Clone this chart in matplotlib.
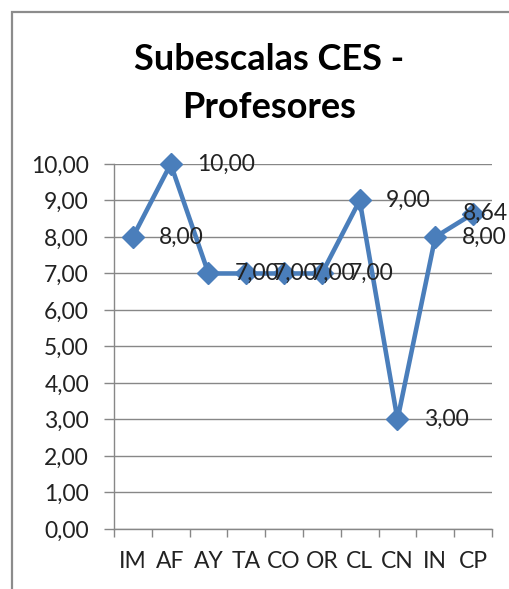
import numpy as np
import matplotlib
matplotlib.use("Agg")
from matplotlib import pyplot as plt
from matplotlib.patches import Rectangle

# data
categories = ["IM", "AF", "AY", "TA", "CO", "OR", "CL", "CN", "IN", "CP"]
values = [8.00, 10.00, 7.00, 7.00, 7.00, 7.00, 9.00, 3.00, 8.00, 8.64]
y_ticks = [0, 1, 2, 3, 4, 5, 6, 7, 8, 9, 10]

plt.rcParams['font.family'] = ['Lato', 'DejaVu Sans']

line_color = "#4A7EBB"
grid_color = "#878787"

fig = plt.figure(figsize=(5.10, 5.89), dpi=100)
ax = fig.add_axes([0.2235, 0.1019, 0.7412, 0.6197])

x = np.arange(len(categories))
ax.plot(x, values, color=line_color, linewidth=3.3, marker="D",
        markersize=11.5, markeredgecolor=line_color, zorder=3,
        clip_on=False)

# data labels to the right of each point (last one pushed left, like Excel does)
for i, (xi, v) in enumerate(zip(x, values)):
    dx, dy = (19, 0) if i < len(values) - 1 else (-7, 0)
    ax.annotate("{:.2f}".format(v).replace(".", ","), (xi, v),
                xytext=(dx, dy), textcoords="offset points",
                ha="left", va="center", fontsize=16.5, color="#222222",
                zorder=4, annotation_clip=False)

ax.set_xlim(-0.5, len(categories) - 0.5)
ax.set_ylim(0, 10)
ax.set_yticks(y_ticks)
ax.set_yticklabels(["{:.2f}".format(t).replace(".", ",") for t in y_ticks])
ax.set_xticks(x)
ax.set_xticklabels(categories)
ax.set_xticks(np.arange(-0.5, len(categories)), minor=True)

ax.tick_params(axis="x", which="major", length=0, pad=16, labelsize=16.5,
               colors="#222222")
ax.tick_params(axis="x", which="minor", length=6, width=1, color=grid_color)
ax.tick_params(axis="y", length=7, width=1, color=grid_color, pad=11,
               labelsize=16.5, labelcolor="#222222")

ax.grid(axis="y", color=grid_color, linewidth=1)
ax.set_axisbelow(True)
for side in ["top", "right"]:
    ax.spines[side].set_visible(False)
for side in ["left", "bottom"]:
    ax.spines[side].set_color(grid_color)
    ax.spines[side].set_linewidth(1)

# title
fig.text(0.527, 1 - 60 / 589, "Subescalas CES -", ha="center", va="center",
         fontsize=26, fontweight="bold")
fig.text(0.527, 1 - 107 / 589, "Profesores", ha="center", va="center",
         fontsize=26, fontweight="bold")

# chart border (only top and left edges visible in the crop)
fig.patches.append(Rectangle((12 / 510, -0.1), 1.2, 1 - 12 / 589 + 0.1,
                             transform=fig.transFigure, fill=False,
                             edgecolor="#8c8c8c", linewidth=1.6))

fig.savefig("out.png", dpi=100)
